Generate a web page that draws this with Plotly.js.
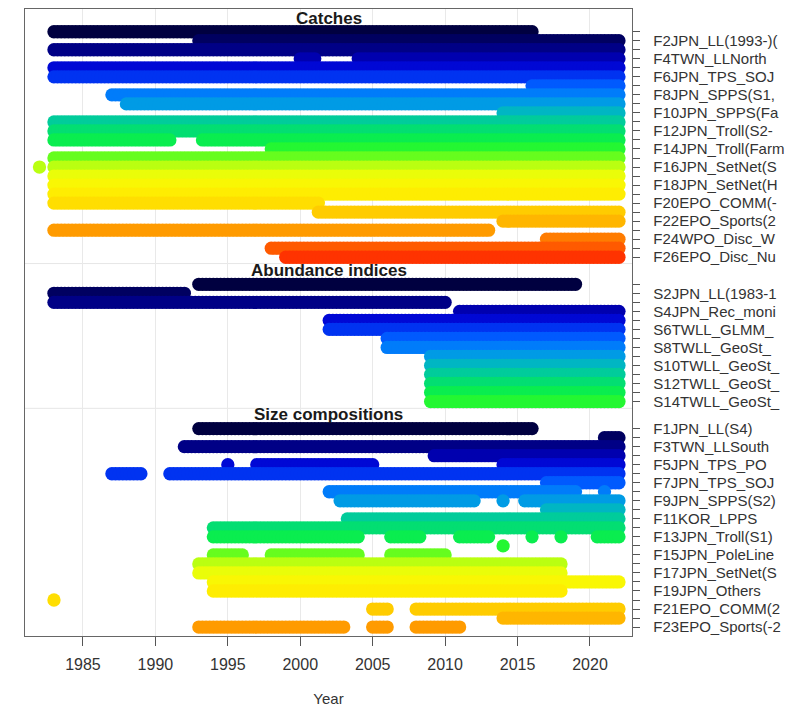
<!DOCTYPE html>
<html><head><meta charset="utf-8">
<script src="https://cdn.plot.ly/plotly-3.0.1.min.js"></script>
<style>body{margin:0;background:#fff}#chart{width:799px;height:717px}</style>
</head><body><div id="chart"></div>
<script>
// ---------- DATA ----------
// Data are quarterly (season) observations; each period = [first, last] time (year + season offset)
const sectionTitles = ["Catches", "Abundance indices", "Size compositions"];
const xTickYears = [1985, 1990, 1995, 2000, 2005, 2010, 2015, 2020];
const SEASON_STEP = 0.25;

// Catches: fleets F1..F26 (labels as visible in the reference, cut at the right edge)
const catchLabels = ["", "F2JPN_LL(1993-)(", "", "F4TWN_LLNorth", "", "F6JPN_TPS_SOJ",
  "", "F8JPN_SPPS(S1,", "", "F10JPN_SPPS(Fa", "", "F12JPN_Troll(S2-", "",
  "F14JPN_Troll(Farm", "", "F16JPN_SetNet(S", "", "F18JPN_SetNet(H", "",
  "F20EPO_COMM(-", "", "F22EPO_Sports(2", "", "F24WPO_Disc_W", "", "F26EPO_Disc_Nu"];
const catchPeriods = [
  [[1983.0, 2016.0]], [[1993.0, 2022.0]], [[1983.0, 2022.0]], [[2000.0, 2001.0], [2004.0, 2022.0]],
  [[1983.0, 2022.0]], [[1983.0, 2022.0]], [[2016.0, 2022.0]], [[1987.0, 2022.0]], [[1988.0, 2022.0]],
  [[2014.0, 2022.0]], [[1983.0, 2022.0]], [[1983.0, 2022.0]], [[1983.0, 1991.0], [1993.25, 2022.0]],
  [[1998.0, 2022.0]], [[1983.0, 2022.0]], [[1982.0, 1982.0], [1983.0, 2022.0]], [[1983.0, 2022.0]],
  [[1983.0, 2022.0]], [[1983.0, 2022.0]], [[1983.0, 2001.25]], [[2001.25, 2022.0]], [[2014.0, 2022.0]],
  [[1983.0, 2013.0]], [[2017.0, 2022.0]], [[1998.0, 2022.0]], [[1999.0, 2022.0]]];

// Abundance indices: S1..S14
const surveyLabels = ["", "S2JPN_LL(1983-1", "", "S4JPN_Rec_moni", "", "S6TWLL_GLMM_",
  "", "S8TWLL_GeoSt_", "", "S10TWLL_GeoSt_", "", "S12TWLL_GeoSt_", "", "S14TWLL_GeoSt_"];
const surveyPeriods = [
  [[1993.0, 2019.0]], [[1983.0, 1992.0]], [[1983.0, 2010.0]], [[2011.0, 2022.0]], [[2002.0, 2022.0]],
  [[2002.0, 2022.0]], [[2006.0, 2022.0]], [[2006.0, 2022.0]], [[2009.0, 2022.0]], [[2009.0, 2022.0]],
  [[2009.0, 2022.0]], [[2009.0, 2022.0]], [[2009.0, 2022.0]], [[2009.0, 2022.0]]];

// Size compositions: F1..F23
const sizeLabels = ["F1JPN_LL(S4)", "", "F3TWN_LLSouth", "", "F5JPN_TPS_PO", "", "F7JPN_TPS_SOJ",
  "", "F9JPN_SPPS(S2)", "", "F11KOR_LPPS", "", "F13JPN_Troll(S1)", "", "F15JPN_PoleLine", "",
  "F17JPN_SetNet(S", "", "F19JPN_Others", "", "F21EPO_COMM(2", "", "F23EPO_Sports(-2"];
const sizePeriods = [
  [[1993.0, 2016.0]], [[2021.0, 2022.0]], [[1992.0, 2022.0]], [[2009.25, 2022.0]],
  [[1995.0, 1995.0], [1997.0, 2005.0], [2014.0, 2022.0]], [[1987.0, 1989.0], [1991.0, 2022.0]],
  [[2017.0, 2022.0]], [[2002.0, 2019.0], [2021.0, 2021.0]], [[2002.75, 2012.0], [2014.0, 2014.0], [2015.5, 2022.0]],
  [[2017.0, 2022.0]], [[2003.25, 2022.0]], [[1994.0, 2022.0]],
  [[1994.0, 2004.0], [2006.25, 2008.25], [2011.0, 2013.0], [2016.0, 2016.0], [2018.0, 2018.0], [2020.5, 2022.0]],
  [[2014.0, 2014.0]], [[1994.0, 1996.0], [1998.0, 2004.0], [2006.25, 2010.0]],
  [[1993.0, 2018.0]], [[1993.0, 2018.0]], [[1994.0, 2022.0]], [[1994.0, 2018.0]], [[1983.0, 1983.0]],
  [[2005.0, 2006.0], [2008.0, 2022.0]], [[2014.0, 2022.0]],
  [[1993.0, 2003.0], [2005.0, 2006.0], [2008.0, 2011.0]]];

// ---------- DRAWING ----------
function richColor(k, n) {          // r4ss rich.colors.short
  const x = (k - 1) / (n - 1);
  const r = 1 / (1 + Math.exp(20 - 35 * x));
  const g = Math.min(Math.max(0, -0.8 + 6 * x - 5 * x * x), 1);
  const dn = v => Math.exp(-0.5 * Math.pow((v - 0.25) / 0.15, 2));
  const b = dn(x) / dn(0.25);
  return `rgb(${Math.round(r * 255)},${Math.round(g * 255)},${Math.round(b * 255)})`;
}
const NCOL = 26;
const sections = [
  {periods: catchPeriods, labels: catchLabels, start: 1},
  {periods: surveyPeriods, labels: surveyLabels, start: 29},
  {periods: sizePeriods, labels: sizeLabels, start: 45}];

const traces = [];
const tickvals = [], ticktext = [];
sections.forEach(sec => {
  const xs = [], ys = [], cs = [];
  sec.periods.forEach((per, i) => {
    const row = sec.start + i;
    tickvals.push(row); ticktext.push(sec.labels[i]);
    per.forEach(([a, b]) => {
      const n = Math.round((b - a) / SEASON_STEP);
      for (let j = 0; j <= n; j++) { xs.push(a + j * SEASON_STEP); ys.push(row); cs.push(richColor(i + 1, NCOL)); }
    });
  });
  traces.push({type: "scatter", mode: "markers", x: xs, y: ys, hoverinfo: "skip",
    marker: {size: 13.3, color: cs, line: {width: 0}}, showlegend: false, cliponaxis: true});
});

const titleRows = [-0.5, 27.5, 43.4];
const annotations = sectionTitles.map((t, i) => ({
  text: "<b>" + t + "</b>", xref: "paper", x: 0.5, yref: "y", y: titleRows[i],
  showarrow: false, font: {family: "Liberation Sans, Arial, sans-serif", size: 17, color: "#1a1a1a"}
}));

const layout = {
  width: 799, height: 717,
  margin: {l: 25, r: 167, t: 9, b: 81},
  paper_bgcolor: "#fff", plot_bgcolor: "#fff",
  font: {family: "Liberation Sans, Arial, sans-serif", color: "#333"},
  xaxis: {range: [1981.0, 2022.9], tickvals: xTickYears, ticks: "outside", ticklen: 9,
    tickcolor: "#555", showgrid: true, gridcolor: "#e9e9e9", zeroline: false,
    showline: true, mirror: true, linecolor: "#666", linewidth: 1.3,
    tickfont: {size: 16, color: "#333"}, ticklabelstandoff: 4,
    title: {text: "Year", font: {size: 15, color: "#333"}, standoff: 22}},
  yaxis: {range: [67.99, -1.52], side: "right", tickvals: tickvals, ticktext: ticktext,
    ticks: "outside", ticklen: 7, tickcolor: "#555", showgrid: false, zeroline: false,
    showline: true, mirror: true, linecolor: "#666", linewidth: 1.3,
    tickfont: {size: 15, color: "#333"}, ticklabelstandoff: 10, automargin: false},
  shapes: [26.7, 42.75].map(v => ({type: "line", xref: "paper", x0: 0, x1: 1, yref: "y",
    y0: v, y1: v, line: {color: "#e6e6e6", width: 1}, layer: "below"})),
  annotations: annotations
};
Plotly.newPlot("chart", traces, layout, {staticPlot: true, displayModeBar: false});
</script></body></html>
